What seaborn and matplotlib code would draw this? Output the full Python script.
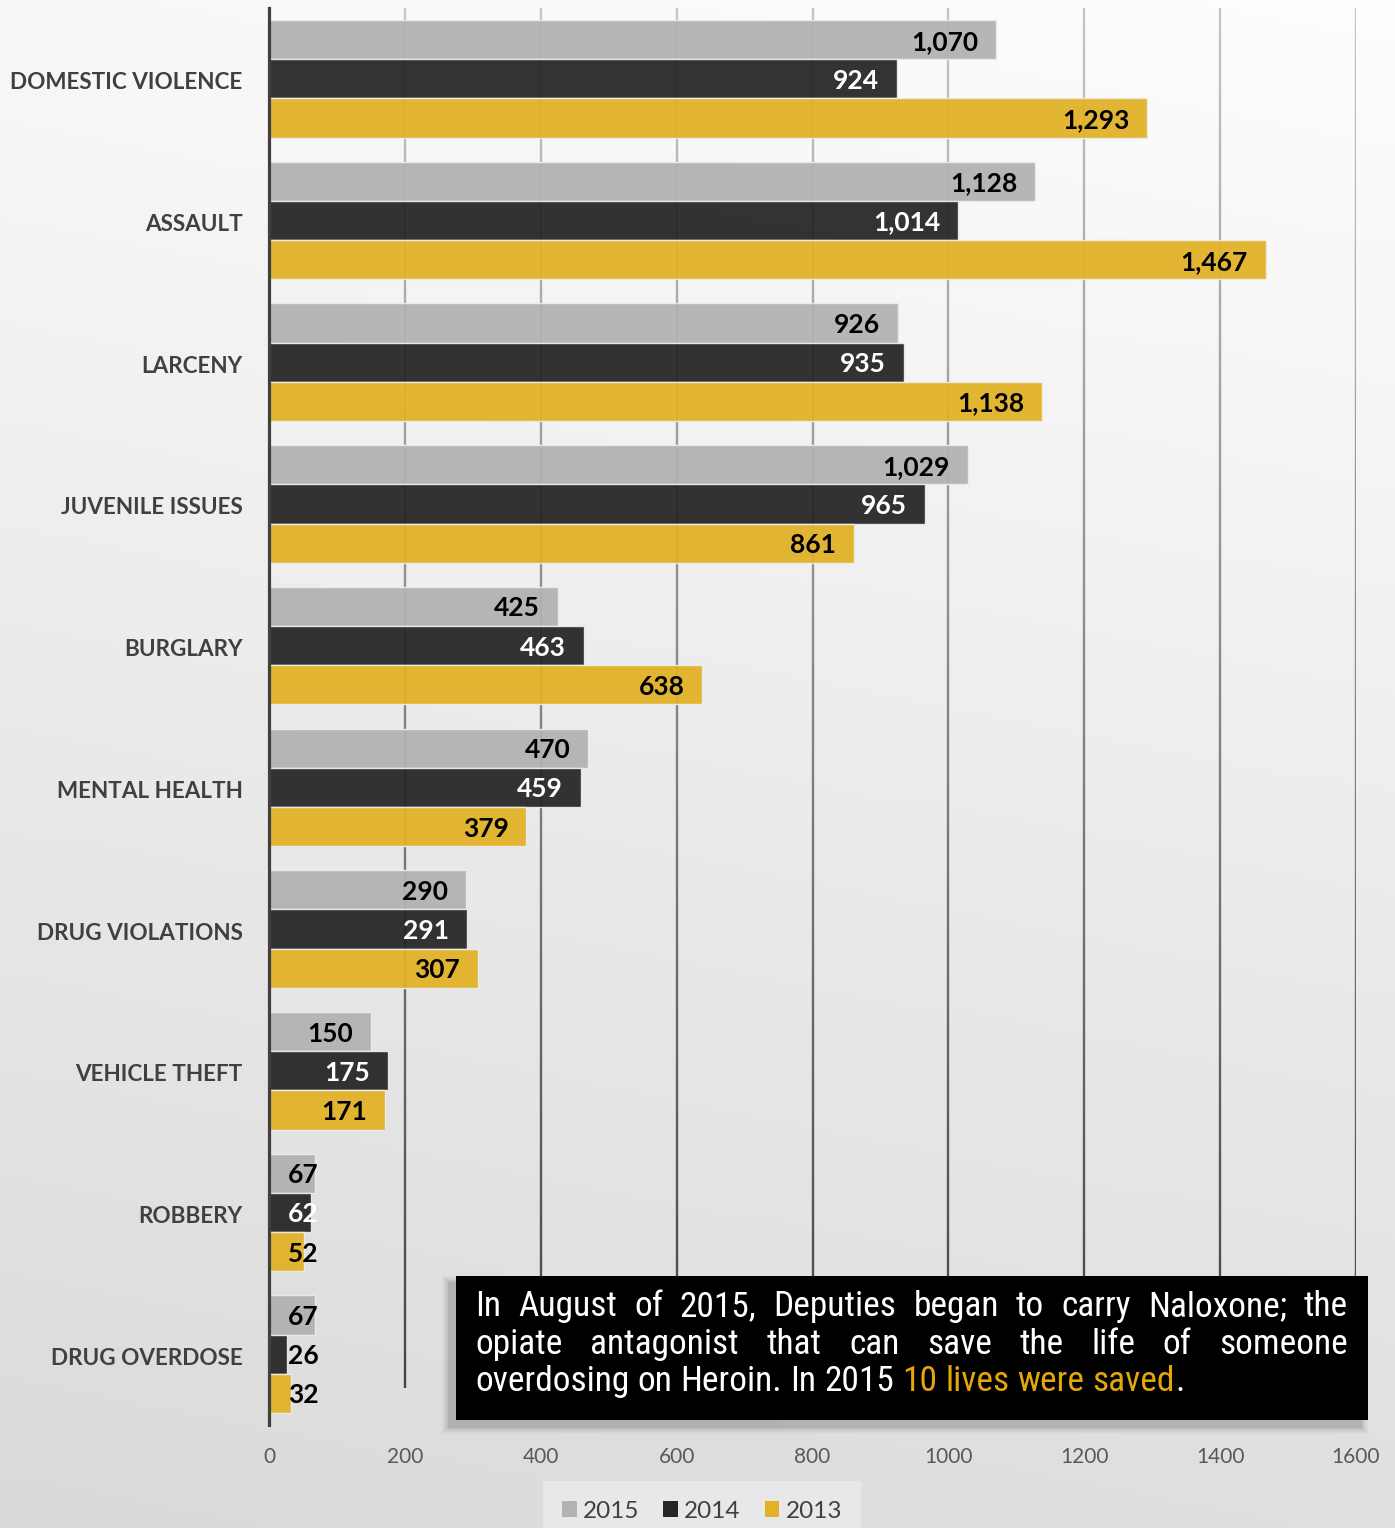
import numpy as np
import pandas as pd
import matplotlib
matplotlib.use("Agg")
import matplotlib.pyplot as plt
from matplotlib import font_manager
from matplotlib.collections import LineCollection
from matplotlib.patches import Rectangle, Patch
import matplotlib.colors as mcolors
import matplotlib.transforms as mtransforms
import seaborn as sns

# ---------------- data ----------------
categories = ["DOMESTIC VIOLENCE", "ASSAULT", "LARCENY", "JUVENILE ISSUES", "BURGLARY",
              "MENTAL HEALTH", "DRUG VIOLATIONS", "VEHICLE THEFT", "ROBBERY", "DRUG OVERDOSE"]
years = ["2015", "2014", "2013"]
values_2015 = [1070, 1128, 926, 1029, 425, 470, 290, 150, 67, 67]
values_2014 = [924, 1014, 935, 965, 463, 459, 291, 175, 62, 26]
values_2013 = [1293, 1467, 1138, 861, 638, 379, 307, 171, 52, 32]
x_ticks = [0, 200, 400, 600, 800, 1000, 1200, 1400, 1600]
colors = {"2015": "#b2b2b2", "2014": "#262626", "2013": "#e1b226"}

note_lines = [
    [("In August of 2015, Deputies began to carry Naloxone; the", "white")],
    [("opiate antagonist that can save the life of someone", "white")],
    [("overdosing on Heroin. In 2015", "white"), ("10 lives were saved", "#e3a70a"), (".", "white")],
]

df = pd.DataFrame({
    "category": categories * 3,
    "year": sum([[y] * len(categories) for y in years], []),
    "value": values_2015 + values_2014 + values_2013,
})

# ---------------- fonts ----------------
avail = {f.name for f in font_manager.fontManager.ttflist}
main_font = "Lato" if "Lato" in avail else "DejaVu Sans"
narrow_font = None
for cand in ["Liberation Sans Narrow", "Roboto Condensed", "Arial Narrow"]:
    if cand in avail:
        narrow_font = cand
        break
note_size = 25.5
if narrow_font is None:
    narrow_font = "Liberation Sans" if "Liberation Sans" in avail else "DejaVu Sans"
    note_size = 22

sns.set_theme(style="white")
plt.rcParams["font.family"] = [main_font, "DejaVu Sans"]

W, H = 1395, 1528
fig = plt.figure(figsize=(W / 100, H / 100), dpi=100)

# background gradient
bg = fig.add_axes([0, 0, 1, 1], zorder=-10)
yy, xx = np.mgrid[0:1:200j, 0:1:200j]  # yy: 0 top -> 1 bottom
d = np.clip(0.85 * yy + 0.15 * (1 - xx), 0, 1)
g = 0.995 - 0.14 * d
bg.imshow(np.dstack([g, g, g]), extent=[0, 1, 0, 1], aspect="auto", origin="upper")
bg.set_axis_off()

ax_left, ax_right, ax_top, ax_bot = 269, 1356, 8, 1425
ax = fig.add_axes([ax_left / W, 1 - ax_bot / H, (ax_right - ax_left) / W, (ax_bot - ax_top) / H], zorder=1)
ax.set_facecolor("none")

sns.barplot(data=df, y="category", x="value", hue="year", hue_order=years,
            palette=colors, orient="h", width=0.83, saturation=1, ax=ax,
            legend=False, edgecolor="#ececec", linewidth=1.0, alpha=0.94, zorder=2)

ax.set_xlim(0, 1600)
ax.set_ylim(len(categories) - 0.5, -0.5)
ax.set_xticks(x_ticks)
ax.set_xticklabels([str(t) for t in x_ticks])
ax.set_xlabel("")
ax.set_ylabel("")
ax.tick_params(axis="x", length=0, pad=16, labelsize=15, labelcolor="#595959")
ax.tick_params(axis="y", length=0, pad=19, labelsize=16.2, labelcolor="#404040")
shift_down = mtransforms.ScaledTranslation(0, -2 / 100, fig.dpi_scale_trans)
for lab in ax.get_yticklabels():
    lab.set_fontweight("bold")
    lab.set_transform(lab.get_transform() + shift_down)
for s in ["top", "right", "bottom"]:
    ax.spines[s].set_visible(False)
ax.spines["left"].set_color("#404040")
ax.spines["left"].set_linewidth(2.3)
ax.spines["left"].set_zorder(5)
ax.grid(False)

# gradient gridlines
segs, cols = [], []
c_top = np.array(mcolors.to_rgb("#c6c6c6"))
c_bot = np.array(mcolors.to_rgb("#444444"))
y_end = (ax_bot - 1388) / (ax_bot - ax_top)
nseg = 80
for xv in x_ticks[1:]:
    ys = np.linspace(1, y_end, nseg + 1)
    for i in range(nseg):
        segs.append([(xv, ys[i]), (xv, ys[i + 1])])
        t = (1 - (ys[i] + ys[i + 1]) / 2) / (1 - y_end)
        cols.append(tuple(c_top + (c_bot - c_top) * t))
lc = LineCollection(segs, colors=cols, linewidths=1.7, transform=ax.get_xaxis_transform(), zorder=0.5)
ax.add_collection(lc)

# value labels
px_per_unit = (ax_right - ax_left) / 1600
pad_units = 18 / px_per_unit
min_left = 19 / px_per_unit
lab_shift = ax.transData + mtransforms.ScaledTranslation(0, -2 / 100, fig.dpi_scale_trans)
for yr, cont in zip(years, ax.containers):
    for bar in cont:
        v = bar.get_width()
        yc = bar.get_y() + bar.get_height() / 2
        txt = f"{int(round(v)):,}"
        if v < 100:
            x, ha = min_left, "left"
            col = "white" if (yr == "2014" and v > 50) else "black"
        else:
            x, ha = v - pad_units, "right"
            col = "white" if yr == "2014" else "black"
        ax.text(x, yc, txt, ha=ha, va="center", fontsize=19, fontweight="bold",
                color=col, zorder=6, transform=lab_shift)

# legend
handles = [Patch(facecolor=colors[y], edgecolor="none", label=y) for y in years]
leg = fig.legend(handles=handles, loc="center", bbox_to_anchor=(702 / W, 1 - 1511 / H),
                 ncol=3, frameon=True, fontsize=17.5, handlelength=0.6, handleheight=0.6,
                 handletextpad=0.25, columnspacing=1.0, borderpad=0.8, fancybox=False)
leg.get_frame().set_facecolor("#e8e8e8")
leg.get_frame().set_edgecolor("none")
leg.get_frame().set_alpha(1)
for t in leg.get_texts():
    t.set_color("#404040")

# note box with soft shadow
bx0, bx1, by0, by1 = 456, 1368, 1276, 1420
for k, a in [(14, 0.03), (10, 0.04), (6, 0.06), (2, 0.08)]:
    fig.patches.append(Rectangle(((bx0 - 7 - k / 2) / W, 1 - (by1 + 7 + k / 2) / H),
                                 (bx1 - bx0 + k) / W, (by1 - by0 + k) / H,
                                 transform=fig.transFigure, facecolor="black",
                                 edgecolor="none", alpha=a, zorder=8))
fig.patches.append(Rectangle((bx0 / W, 1 - by1 / H), (bx1 - bx0) / W, (by1 - by0) / H,
                             transform=fig.transFigure, facecolor="black",
                             edgecolor="none", zorder=9))

fig.canvas.draw()
r = fig.canvas.get_renderer()

def tw(s):
    t = fig.text(0, 0, s, fontsize=note_size, family=[narrow_font, "DejaVu Sans"])
    w = t.get_window_extent(r).width
    t.remove()
    return w

space_w = tw("a a") - tw("aa")
text_x0, text_x1 = 475, 1348
baselines = [1316, 1354, 1391]
for li, (line, base) in enumerate(zip(note_lines, baselines)):
    tokens = []
    for seg_text, c in line:
        words = seg_text.split(" ")
        for wi, wd in enumerate(words):
            glue = (wi == 0 and seg_text == ".")
            tokens.append((wd, c, glue))
    widths = [tw(t[0]) for t in tokens]
    justify = li < len(note_lines) - 1
    ngaps = sum(1 for i, t in enumerate(tokens) if i > 0 and not t[2])
    if justify and ngaps > 0:
        gap = (text_x1 - text_x0 - sum(widths)) / ngaps
    else:
        gap = space_w
    x = text_x0
    for i, ((wd, c, glue), w) in enumerate(zip(tokens, widths)):
        if i > 0 and not glue:
            x += gap
        fig.text(x / W, 1 - base / H, wd, fontsize=note_size, color=c,
                 family=[narrow_font, "DejaVu Sans"], va="baseline", ha="left", zorder=10)
        x += w

fig.savefig("out.png", dpi=100)
